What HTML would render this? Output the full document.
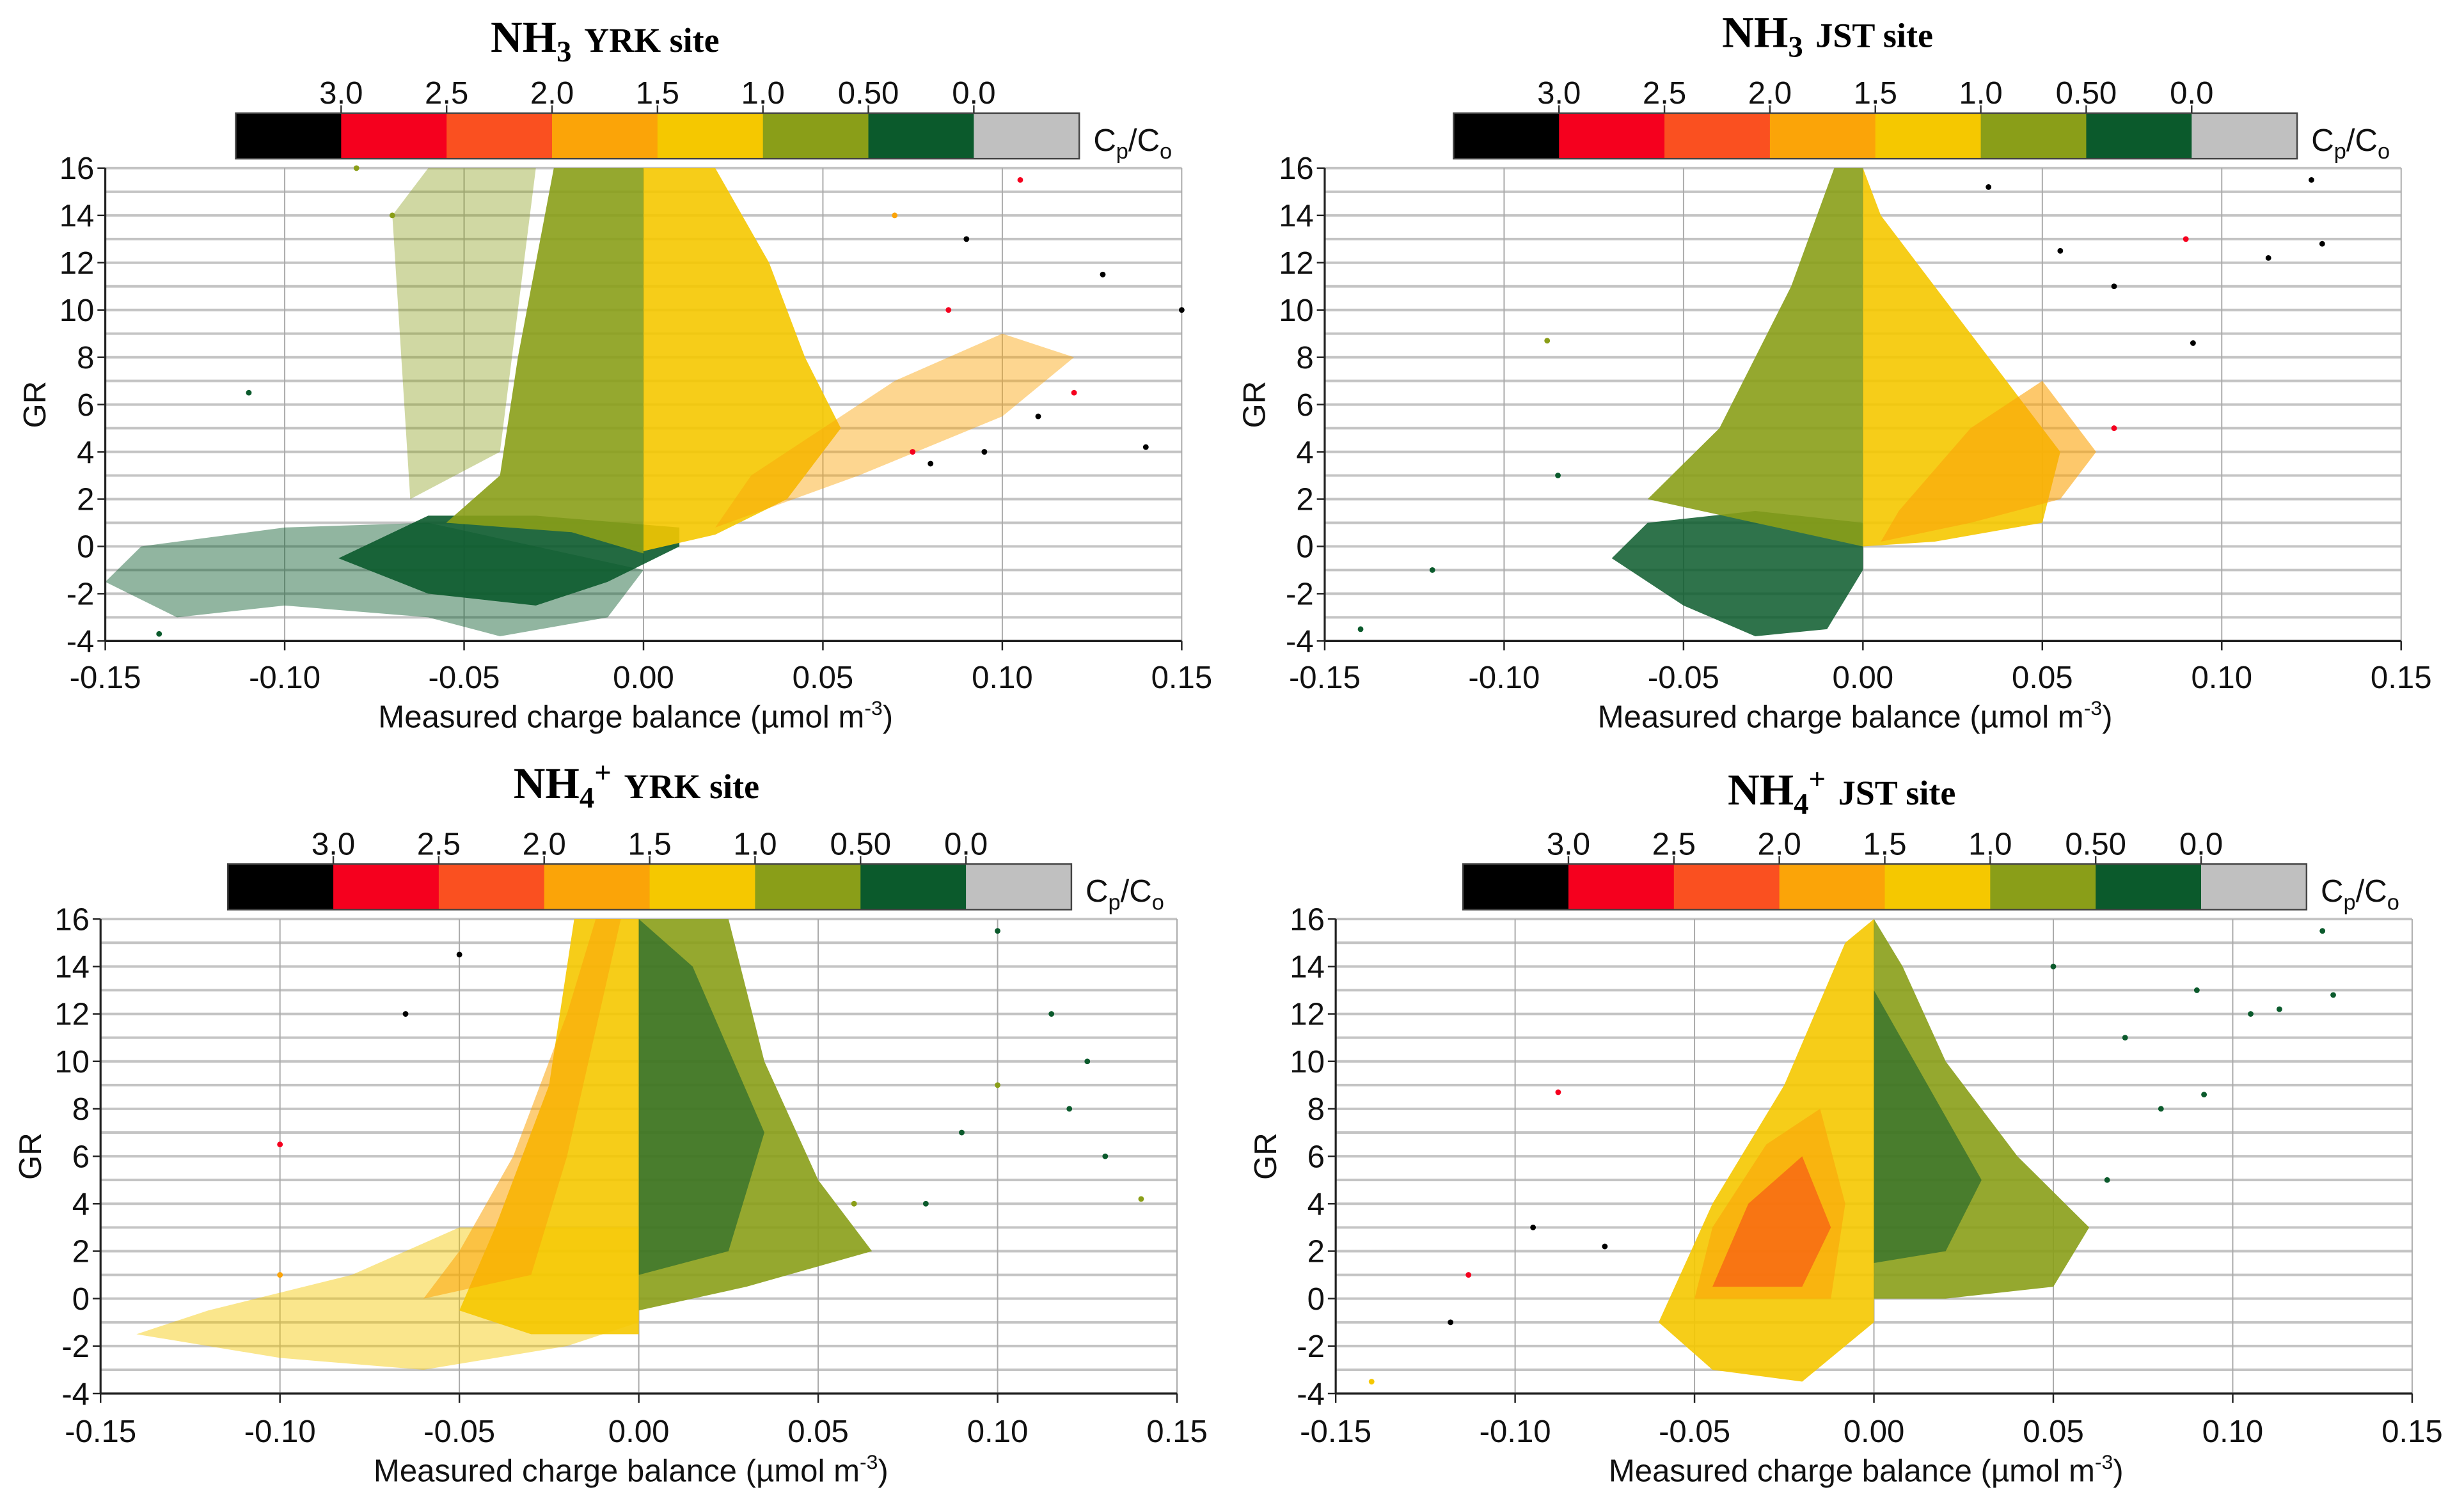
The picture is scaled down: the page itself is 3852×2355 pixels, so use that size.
<!DOCTYPE html>
<html><head><meta charset="utf-8"><style>
html,body{margin:0;padding:0;background:#fff;}
svg{display:block;}
text{font-family:"Liberation Sans",sans-serif;}
.ser{font-family:"Liberation Serif",serif;font-weight:bold;}
</style></head><body>
<svg id="fig" xmlns="http://www.w3.org/2000/svg" width="3852" height="2355" viewBox="0 0 1568 958.6"></svg>
<script>
// ---- data ----
const colorbarLabels = ["3.0","2.5","2.0","1.5","1.0","0.50","0.0"];
const colorbarColors = ["#000000","#f5001e","#fa5020","#fba408","#f5c800","#8a9e18","#0b5a2c","#c0c0c0"];
const xTicks = [-0.15,-0.10,-0.05,0.00,0.05,0.10,0.15];
const xTickLabels = ["-0.15","-0.10","-0.05","0.00","0.05","0.10","0.15"];
const yTicks = [16,14,12,10,8,6,4,2,0,-2,-4];
const yTickLabels = ["16","14","12","10","8","6","4","2","0","-2","-4"];

// region polygons (data coords: [charge balance, GR]) with color index
const tlRegions = [
 {c:6,o:0.45,pts:[[-0.15,-1.5],[-0.13,-3],[-0.1,-2.5],[-0.06,-3],[-0.04,-3.8],[-0.01,-3],[0,-1],[-0.06,1],[-0.1,0.8],[-0.14,0]]},
 {c:6,o:0.9,pts:[[-0.085,-0.5],[-0.06,-2],[-0.03,-2.5],[-0.01,-1.5],[0.01,0],[0.01,0.8],[-0.03,1.3],[-0.06,1.3]]},
 {c:5,o:0.4,pts:[[-0.065,2],[-0.07,14],[-0.06,16],[-0.03,16],[-0.04,4]]},
 {c:5,o:0.9,pts:[[-0.055,1],[-0.04,3],[-0.035,8],[-0.025,16],[0,16],[0,-0.3],[-0.02,0.6]]},
 {c:4,o:0.9,pts:[[0,-0.2],[0,16],[0.02,16],[0.035,12],[0.045,8],[0.055,5],[0.04,2],[0.02,0.5]]},
 {c:3,o:0.45,pts:[[0.02,0.8],[0.06,3],[0.1,5.5],[0.12,8],[0.1,9],[0.07,7],[0.05,5],[0.03,3]]}
];
const trRegions = [
 {c:6,o:0.85,pts:[[-0.07,-0.5],[-0.05,-2.5],[-0.03,-3.8],[-0.01,-3.5],[0,-1],[0,1],[-0.03,1.5],[-0.06,1]]},
 {c:5,o:0.9,pts:[[-0.06,2],[-0.04,5],[-0.02,11],[-0.008,16],[0,16],[0,0],[-0.03,1]]},
 {c:4,o:0.9,pts:[[0,0],[0,16],[0.005,14],[0.02,11],[0.04,7],[0.055,4],[0.05,1],[0.02,0.2]]},
 {c:3,o:0.6,pts:[[0.005,0.2],[0.03,1],[0.055,2],[0.065,4],[0.05,7],[0.03,5],[0.01,1.5]]}
];
const blRegions = [
 {c:4,o:0.45,pts:[[-0.14,-1.5],[-0.1,-2.5],[-0.06,-3],[-0.02,-2],[0,-1],[0,3],[-0.05,3],[-0.08,1],[-0.12,-0.5]]},
 {c:4,o:0.9,pts:[[-0.05,-0.5],[-0.04,3],[-0.025,9],[-0.018,16],[0,16],[0,-1.5],[-0.03,-1.5]]},
 {c:3,o:0.55,pts:[[-0.06,0],[-0.05,2],[-0.035,6],[-0.02,12],[-0.012,16],[-0.005,16],[-0.02,6],[-0.03,1]]},
 {c:5,o:0.9,pts:[[0,-0.5],[0,16],[0.025,16],[0.035,10],[0.05,5],[0.065,2],[0.03,0.5]]},
 {c:6,o:0.55,pts:[[0,1],[0,16],[0.015,14],[0.035,7],[0.025,2]]}
];
const brRegions = [
 {c:4,o:0.9,pts:[[-0.06,-1],[-0.045,-3],[-0.02,-3.5],[0,-1],[0,16],[-0.008,15],[-0.025,9],[-0.045,4]]},
 {c:3,o:0.6,pts:[[-0.05,0],[-0.045,3],[-0.03,6.5],[-0.015,8],[-0.008,4],[-0.012,0]]},
 {c:1,o:0.35,pts:[[-0.045,0.5],[-0.035,4],[-0.02,6],[-0.012,3],[-0.02,0.5]]},
 {c:5,o:0.9,pts:[[0,0],[0,16],[0.008,14],[0.02,10],[0.04,6],[0.06,3],[0.05,0.5],[0.02,0]]},
 {c:6,o:0.55,pts:[[0,1.5],[0,13],[0.015,9],[0.03,5],[0.02,2]]}
];

// sparse outlier points [x, GR, colorIndex]
const tlPoints = [[0.14,4.2,0],[0.128,11.5,0],[0.15,10,0],[0.12,6.5,1],[0.11,5.5,0],[0.095,4,0],[0.09,13,0],[0.085,10,1],[0.07,14,3],[0.105,15.5,1],[-0.11,6.5,6],[-0.135,-3.7,6],[-0.07,14,5],[-0.08,16,5],[0.075,4,1],[0.08,3.5,0]];
const trPoints = [[0.125,15.5,0],[0.128,12.8,0],[0.113,12.2,0],[0.092,8.6,0],[0.09,13,1],[0.07,11,0],[0.035,15.2,0],[0.055,12.5,0],[-0.12,-1,6],[-0.14,-3.5,6],[-0.088,8.7,5],[-0.085,3,6],[0.07,5,1]];
const blPoints = [[-0.1,6.5,1],[-0.05,14.5,0],[-0.065,12,0],[0.125,10,6],[0.115,12,6],[0.13,6,6],[0.1,9,5],[0.09,7,6],[0.08,4,6],[0.1,15.5,6],[0.06,4,5],[-0.1,1,3],[0.14,4.2,5],[0.12,8,6]];
const brPoints = [[0.125,15.5,6],[0.128,12.8,6],[0.113,12.2,6],[0.105,12,6],[0.092,8.6,6],[0.09,13,6],[0.07,11,6],[0.08,8,6],[0.065,5,6],[0.05,14,6],[-0.088,8.7,1],[-0.095,3,0],[-0.075,2.2,0],[-0.118,-1,0],[-0.14,-3.5,4],[-0.113,1,1]];

// ---- layout ----
const panels = [
 {id:"nh3-yrk",sp:"NH",sub:"3",sup:"",site:"YRK site",tx:385,ty:33,cb:[150,72],px:[67,752],py:[107,408],xl:430,xt:463,regions:tlRegions,points:tlPoints},
 {id:"nh3-jst",sp:"NH",sub:"3",sup:"",site:"JST site",tx:1163,ty:30,cb:[925,72],px:[843,1528],py:[107,408],xl:430,xt:463,regions:trRegions,points:trPoints},
 {id:"nh4-yrk",sp:"NH",sub:"4",sup:"+",site:"YRK site",tx:405,ty:508,cb:[145,550],px:[64,749],py:[585,887],xl:910,xt:943,regions:blRegions,points:blPoints},
 {id:"nh4-jst",sp:"NH",sub:"4",sup:"+",site:"JST site",tx:1172,ty:512,cb:[931,550],px:[850,1535],py:[585,887],xl:910,xt:943,regions:brRegions,points:brPoints}
];
const NS="http://www.w3.org/2000/svg";
const svg=document.getElementById("fig");
function mk(tag,parent,attrs){const e=document.createElementNS(NS,tag);for(const k in attrs)e.setAttribute(k,attrs[k]);parent.appendChild(e);return e;}

panels.forEach(p=>{
 const g=mk("g",svg,{});
 
 
 const sx=v=>p.px[0]+(v+0.15)/0.3*(p.px[1]-p.px[0]);
 const sy=v=>p.py[1]-(v+4)/20*(p.py[1]-p.py[0]);
 const t=mk("text",g,{x:p.tx,y:p.ty,"text-anchor":"middle","class":"ser","font-size":28});
 
 
 const s1=mk("tspan",t,{}); s1.textContent=p.sp;
 const s2=mk("tspan",t,{dy:6,"font-size":19}); s2.textContent=p.sub;
 if(p.sup){const s3=mk("tspan",t,{dy:-16,"font-size":19}); s3.textContent=p.sup;}
 const s4=mk("tspan",t,{dy:p.sup?10:-6,"font-size":22,dx:8}); s4.textContent=p.site;
 const cb=mk("g",g,{});
 
 
 const sw=67.1;
 colorbarColors.forEach((c,i)=>{
  const r=mk("rect",cb,{x:p.cb[0]+i*sw,y:p.cb[1],width:sw+0.3,height:29,fill:c});
  
  
 });
 mk("rect",cb,{x:p.cb[0],y:p.cb[1],width:sw*8,height:29,fill:"none",stroke:"#444","stroke-width":1});
 colorbarLabels.forEach((l,i)=>{
  const x=p.cb[0]+(i+1)*sw;
  mk("line",cb,{x1:x,x2:x,y1:p.cb[1]-5,y2:p.cb[1],stroke:"#333"});
  const tt=mk("text",cb,{x:x,y:p.cb[1]-6,"text-anchor":"middle","font-size":20,fill:"#111"});
  
  
  tt.textContent=l;
 });
 const cl=mk("text",cb,{x:p.cb[0]+sw*8+9,y:p.cb[1]+24,"font-size":20,fill:"#111"});
 
 
 cl.innerHTML='C<tspan font-size="14" dy="5">p</tspan><tspan dy="-5">/C</tspan><tspan font-size="14" dy="5">o</tspan>';
 for(let v=-4;v<=16;v++){
  const l=mk("line",g,{x1:p.px[0],x2:p.px[1],y1:sy(v),y2:sy(v),stroke:"#c4c4c4","stroke-width":1.6});
  
  
 }
 xTicks.slice(1).forEach(v=>{
  const l=mk("line",g,{x1:sx(v),x2:sx(v),y1:p.py[0],y2:p.py[1],stroke:"#aaa","stroke-width":0.8});
  
  
 });
 p.regions.forEach(r=>{
  const pg=mk("polygon",g,{points:r.pts.map(q=>sx(q[0])+","+sy(q[1])).join(" "),fill:colorbarColors[r.c],"fill-opacity":r.o});
  
  
 });
 p.points.forEach(q=>{
  const c=mk("circle",g,{cx:sx(q[0]),cy:sy(q[1]),r:1.8,fill:colorbarColors[q[2]]});
  
  
 });
 mk("line",g,{x1:p.px[0],x2:p.px[0],y1:p.py[0],y2:p.py[1],stroke:"#222","stroke-width":1.3});
 mk("line",g,{x1:p.px[0],x2:p.px[1],y1:p.py[1],y2:p.py[1],stroke:"#222","stroke-width":1.3});
 yTicks.forEach((v,i)=>{
  mk("line",g,{x1:p.px[0]-5,x2:p.px[0],y1:sy(v),y2:sy(v),stroke:"#222"});
  const tt=mk("text",g,{x:p.px[0]-7,y:sy(v)+7,"text-anchor":"end","font-size":20,fill:"#111"});
  
  
  tt.textContent=yTickLabels[i];
 });
 xTicks.forEach((v,i)=>{
  mk("line",g,{x1:sx(v),x2:sx(v),y1:p.py[1],y2:p.py[1]+6,stroke:"#222"});
  const tt=mk("text",g,{x:sx(v),y:p.xl+8,"text-anchor":"middle","font-size":20,fill:"#111"});
  
  
  tt.textContent=xTickLabels[i];
 });
 const xt=mk("text",g,{x:(p.px[0]+p.px[1])/2-5,y:p.xt,"text-anchor":"middle","font-size":20,fill:"#111"});
 
 
 xt.innerHTML='Measured charge balance (µmol m<tspan font-size="13" dy="-8">-3</tspan><tspan dy="8">)</tspan>';
 const yy=(p.py[0]+p.py[1])/2;
 const yt=mk("text",g,{x:p.px[0]-38,y:yy,"text-anchor":"middle","font-size":20,fill:"#111",transform:`rotate(-90 ${p.px[0]-38} ${yy})`});
 
 
 yt.textContent="GR";
});
</script>
</body></html>
